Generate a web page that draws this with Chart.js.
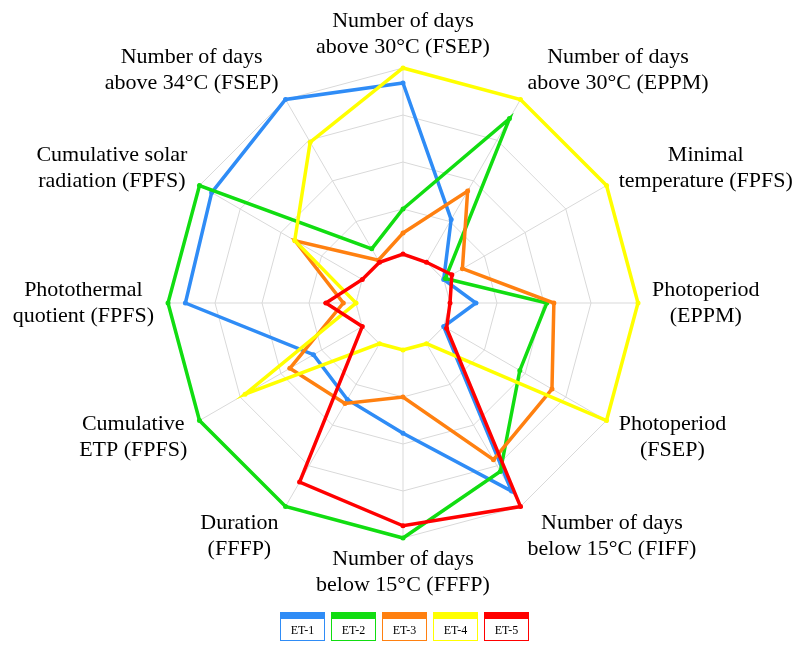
<!DOCTYPE html>
<html>
<head>
<meta charset="utf-8">
<script src="https://cdn.jsdelivr.net/npm/chart.js@4.4.0/dist/chart.umd.min.js"></script>
<style>
  html, body { margin: 0; padding: 0; background: #fff; }
  #wrap { position: relative; width: 799px; height: 646px; }
  #legend { position: absolute; left: 280px; top: 612px; display: flex; gap: 6px; }
  .item { width: 45px; }
  .bar { height: 7px; }
  .box { height: 22px; border: 1px solid; border-top: none; box-sizing: border-box;
         font: 12px "Liberation Serif", "Times New Roman", serif; color: #000;
         text-align: center; line-height: 22px; }
</style>
</head>
<body>
<div id="wrap">
  <canvas id="radar" width="799" height="646"></canvas>
  <div id="legend"></div>
</div>

<script>
// axes, clockwise from the top
var categories = [
    ['Number of days', 'above 30°C (FSEP)'],
    ['Number of days', 'above 30°C (EPPM)'],
    ['Minimal', 'temperature (FPFS)'],
    ['Photoperiod', '(EPPM)'],
    ['Photoperiod', '(FSEP)'],
    ['Number of days', 'below 15°C (FIFF)'],
    ['Number of days', 'below 15°C (FFFP)'],
    ['Duration', '(FFFP)'],
    ['Cumulative', 'ETP (FPFS)'],
    ['Photothermal', 'quotient (FPFS)'],
    ['Cumulative solar', 'radiation (FPFS)'],
    ['Number of days', 'above 34°C (FSEP)']
];

var seriesNames = ['ET-1', 'ET-2', 'ET-3', 'ET-4', 'ET-5'];
var seriesColors = ['#2f8cf6', '#11dd11', '#ff8010', '#ffff00', '#ff0000'];

var et1 = [4.68, 2.05, 1.0, 1.55, 1.0, 4.62, 2.77, 2.37, 2.2, 4.63, 4.7, 5.0];
var et2 = [2.0, 4.53, 1.04, 3.06, 2.87, 4.14, 5.0, 5.0, 5.0, 5.0, 5.0, 1.33];
var et3 = [1.49, 2.75, 1.46, 3.21, 3.66, 3.85, 2.0, 2.47, 2.78, 1.27, 2.65, 1.05];
var et4 = [5.0, 5.0, 5.0, 5.0, 5.0, 1.0, 1.0, 1.0, 3.88, 1.0, 2.66, 3.95];
var et5 = [1.04, 1.0, 1.2, 1.0, 1.07, 5.0, 4.74, 4.4, 1.0, 1.64, 1.0, 1.0];

var seriesValues = [et1, et2, et3, et4, et5];
var scaleMin = 0, scaleMax = 5, innerValue = 1;
var gridColor = '#d9d9d9';

// blank out the centre of the web (no spokes inside the first ring)
var innerHole = {
    id: 'innerHole',
    beforeDatasetsDraw: function(chart) {
        var scale = chart.scales.r;
        var ctx = chart.ctx;
        ctx.save();
        ctx.beginPath();
        for (var i = 0; i < categories.length; i++) {
            var p = scale.getPointPositionForValue(i, innerValue);
            if (i === 0) ctx.moveTo(p.x, p.y); else ctx.lineTo(p.x, p.y);
        }
        ctx.closePath();
        ctx.fillStyle = '#fff';
        ctx.fill();
        ctx.strokeStyle = gridColor;
        ctx.lineWidth = 1;
        ctx.stroke();
        ctx.restore();
    }
};

// axis labels, each line centred in its block
var axisLabels = {
    id: 'axisLabels',
    afterDraw: function(chart) {
        var scale = chart.scales.r;
        var ctx = chart.ctx;
        var lineH = 26;
        ctx.save();
        ctx.font = '22px "Liberation Serif", "Times New Roman", serif';
        ctx.fillStyle = '#000';
        ctx.textAlign = 'center';
        ctx.textBaseline = 'middle';
        for (var i = 0; i < categories.length; i++) {
            var lines = categories[i];
            var p = scale.getPointPositionForValue(i, scaleMax);
            var a = scale.getIndexAngle(i);
            var s = Math.sin(a), c = Math.cos(a);
            var w = 0;
            lines.forEach(function(t) { w = Math.max(w, ctx.measureText(t).width); });
            var cx;
            if (Math.abs(s) < 0.01) cx = p.x;
            else if (s > 0) cx = p.x + 14 * s + w / 2;
            else cx = p.x + 14 * s - w / 2;
            var cy = p.y - 34 * c;
            var y0 = cy - (lines.length - 1) * lineH / 2;
            lines.forEach(function(t, k) { ctx.fillText(t, cx, y0 + k * lineH); });
        }
        ctx.restore();
    }
};

var datasets = seriesNames.map(function(name, k) {
    return {
        label: name,
        data: seriesValues[k],
        borderColor: seriesColors[k],
        backgroundColor: seriesColors[k],
        pointBackgroundColor: seriesColors[k],
        pointBorderWidth: 0,
        pointRadius: 2.5,
        borderWidth: 3.5,
        fill: false,
        order: seriesNames.length - k
    };
});

var ctxR = document.getElementById('radar').getContext('2d');
var myRadarChart = new Chart(ctxR, {
    type: 'radar',
    data: {
        labels: categories,
        datasets: datasets
    },
    options: {
        responsive: false,
        animation: false,
        devicePixelRatio: 1,
        layout: { padding: { top: 68, bottom: 108, left: 100, right: 92 } },
        plugins: {
            legend: { display: false },
            tooltip: { enabled: false }
        },
        scales: {
            r: {
                min: scaleMin,
                max: scaleMax,
                ticks: { display: false, stepSize: 1 },
                grid: { color: gridColor, lineWidth: 1 },
                angleLines: { color: gridColor, lineWidth: 1 },
                pointLabels: { display: false }
            }
        }
    },
    plugins: [innerHole, axisLabels]
});

// legend below the web
var legend = document.getElementById('legend');
seriesNames.forEach(function(name, k) {
    var item = document.createElement('div');
    item.className = 'item';
    item.innerHTML = '<div class="bar" style="background:' + seriesColors[k] + '"></div>' +
        '<div class="box" style="border-color:' + seriesColors[k] + '">' + name + '</div>';
    legend.appendChild(item);
});
</script>
</body>
</html>
